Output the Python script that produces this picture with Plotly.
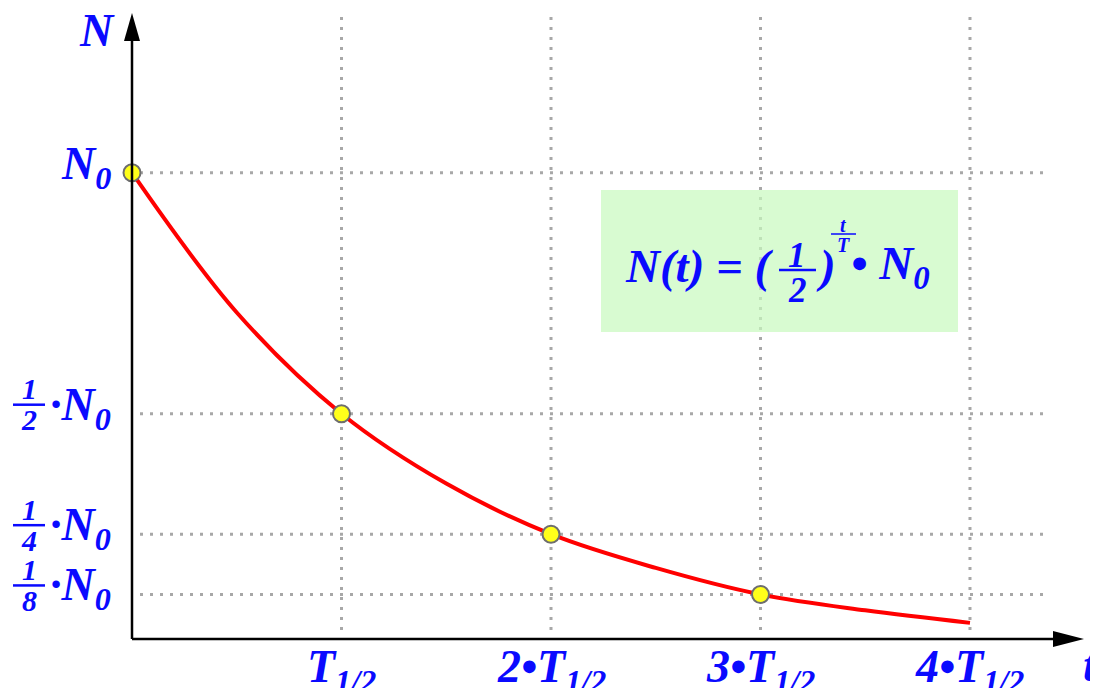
import plotly.graph_objects as go

W, H = 1098, 688
OFF = 8  # page body margin around the plot div

# curve (t in half-lives, N as fraction of N0)
curve_t = [0, 0.5, 1, 1.5, 2, 2.5, 3, 3.5, 4]
curve_n = [1.0, 0.71, 0.5, 0.355, 0.25, 0.18, 0.125, 0.092, 0.066]

# marked half-life points
point_t = [0, 1, 2, 3]
point_n = [1, 0.5, 0.25, 0.125]

# tick labels
x_ticks = [1, 2, 3, 4]
x_labels = ["T<sub>1/2</sub>", "2•T<sub>1/2</sub>", "3•T<sub>1/2</sub>", "4•T<sub>1/2</sub>"]
y_ticks = [1, 0.5, 0.25, 0.125]
y_denoms = [None, "2", "4", "8"]

BLUE = "#0a0aff"
GRID = "#a8a8a8"
SERIF = "Liberation Serif, Times New Roman, serif"


def fnt(size):
    return dict(family=SERIF, size=size, color=BLUE)


def bi(s):
    return "<b><i>" + s + "</i></b>"


def px(x):
    return (x - OFF) / W


def py(y):
    return 1 - (y - OFF) / H


fig = go.Figure()

fig.add_trace(go.Scatter(
    x=curve_t, y=curve_n, mode="lines",
    line=dict(color="#ff0000", width=4, shape="spline"),
    hoverinfo="skip"
))
fig.add_trace(go.Scatter(
    x=point_t, y=point_n, mode="markers",
    marker=dict(size=17, color="#ffff1a", line=dict(color="#6e6e6e", width=2)),
    cliponaxis=False
))

shapes = []
# dotted grid
for t in x_ticks:
    shapes.append(dict(type="line", xref="x", yref="paper", x0=t, x1=t, y0=py(630), y1=py(16),
                       line=dict(color=GRID, width=3, dash="3px,7px"), layer="below"))
for v in y_ticks:
    shapes.append(dict(type="line", xref="paper", yref="y", x0=px(140), x1=px(1050), y0=v, y1=v,
                       line=dict(color=GRID, width=3, dash="3px,7px"), layer="below"))

# formula box
shapes.append(dict(type="rect", xref="paper", yref="paper", x0=px(601), x1=px(958), y0=py(332), y1=py(190),
                   fillcolor="rgb(200,250,190)", opacity=0.7, line=dict(width=0), layer="above"))

# axes with arrows
ax_y = 639
shapes.append(dict(type="line", xref="paper", yref="paper", x0=px(132), x1=px(1060), y0=py(ax_y), y1=py(ax_y),
                   line=dict(color="black", width=2.5)))
shapes.append(dict(type="line", xref="paper", yref="paper", x0=px(132), x1=px(132), y0=py(ax_y), y1=py(36),
                   line=dict(color="black", width=2.5)))
shapes.append(dict(type="path", xref="paper", yref="paper",
                   path=f"M{px(1084)},{py(ax_y)} L{px(1053)},{py(ax_y - 8)} L{px(1053)},{py(ax_y + 8)} Z",
                   fillcolor="black", line=dict(width=0)))
shapes.append(dict(type="path", xref="paper", yref="paper",
                   path=f"M{px(132)},{py(13)} L{px(124)},{py(41)} L{px(140)},{py(41)} Z",
                   fillcolor="black", line=dict(width=0)))

ann = []
# axis titles
ann.append(dict(xref="paper", yref="paper", x=px(97), y=py(31), text=bi("N"), showarrow=False,
                font=fnt(46), xanchor="center", yanchor="middle"))
ann.append(dict(xref="paper", yref="paper", x=px(1081), y=py(664), text=bi("t"), showarrow=False,
                font=fnt(48), xanchor="left", yanchor="middle"))

# x tick labels
for t, lab in zip(x_ticks, x_labels):
    ann.append(dict(xref="x", yref="paper", x=t, y=py(670), text=bi(lab), showarrow=False,
                    font=fnt(46), xanchor="center", yanchor="middle"))

# y tick labels
for v, d in zip(y_ticks, y_denoms):
    if d is None:
        ann.append(dict(xref="paper", yref="y", x=px(113), y=v, text=bi("N<sub>0</sub>"), showarrow=False,
                        font=fnt(46), xanchor="right", yanchor="middle", yshift=6))
    else:
        ann.append(dict(xref="paper", yref="y", x=px(113), y=v, text=bi("·N<sub>0</sub>"), showarrow=False,
                        font=fnt(46), xanchor="right", yanchor="middle", yshift=6))
        ann.append(dict(xref="paper", yref="y", x=px(29), y=v, text=bi("1"), showarrow=False,
                        font=fnt(30), xanchor="center", yanchor="middle", yshift=25))
        ann.append(dict(xref="paper", yref="y", x=px(29), y=v, text=bi(d), showarrow=False,
                        font=fnt(30), xanchor="center", yanchor="middle", yshift=-6))
        shapes.append(dict(type="line", xref="paper", yref="y", ysizemode="pixel", yanchor=v,
                           x0=px(13), x1=px(45), y0=9, y1=9,
                           line=dict(color=BLUE, width=2.5)))

# formula
ann.append(dict(xref="paper", yref="paper", x=px(776), y=py(266), text=bi("N(t) = ("), showarrow=False,
                font=fnt(47), xanchor="right", yanchor="middle"))
ann.append(dict(xref="paper", yref="paper", x=px(797), y=py(256), text=bi("1"), showarrow=False,
                font=fnt(35), xanchor="center", yanchor="middle"))
ann.append(dict(xref="paper", yref="paper", x=px(797), y=py(290), text=bi("2"), showarrow=False,
                font=fnt(35), xanchor="center", yanchor="middle"))
shapes.append(dict(type="line", xref="paper", yref="paper", x0=px(779), x1=px(816), y0=py(270), y1=py(270),
                   line=dict(color=BLUE, width=2.5)))
ann.append(dict(xref="paper", yref="paper", x=px(814), y=py(266), text=bi(")"), showarrow=False,
                font=fnt(47), xanchor="left", yanchor="middle"))
ann.append(dict(xref="paper", yref="paper", x=px(843), y=py(225), text=bi("t"), showarrow=False,
                font=fnt(20), xanchor="center", yanchor="middle"))
ann.append(dict(xref="paper", yref="paper", x=px(843), y=py(245), text=bi("T"), showarrow=False,
                font=fnt(20), xanchor="center", yanchor="middle"))
shapes.append(dict(type="line", xref="paper", yref="paper", x0=px(831), x1=px(856), y0=py(234), y1=py(234),
                   line=dict(color=BLUE, width=1.5)))
ann.append(dict(xref="paper", yref="paper", x=px(849), y=py(266), text=bi("• N<sub>0</sub>"), showarrow=False,
                font=fnt(47), xanchor="left", yanchor="middle"))

fig.update_layout(
    width=W, height=H,
    margin=dict(l=0, r=0, t=0, b=0),
    paper_bgcolor="white", plot_bgcolor="white",
    showlegend=False,
    xaxis=dict(range=[-0.5919, 4.6492], visible=False),
    yaxis=dict(range=[-0.0857, 1.3417], visible=False),
    shapes=shapes,
    annotations=ann,
)

fig.write_html("out.html")
